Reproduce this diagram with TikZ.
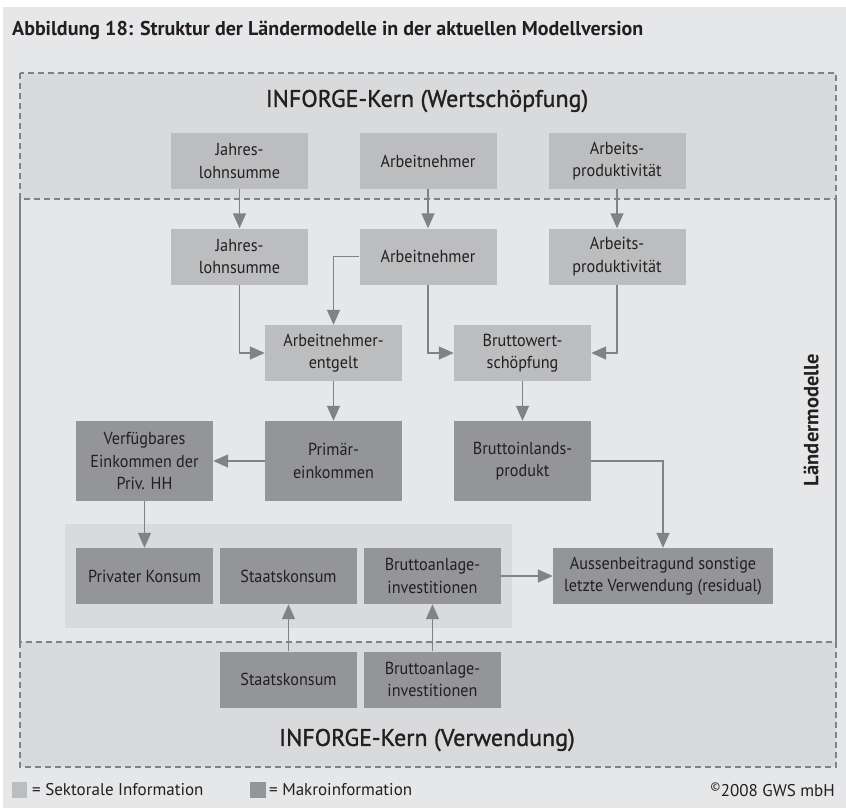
\documentclass[tikz,border=0pt]{standalone}
\usepackage{fontspec}
\setmainfont{PT Sans}[FakeStretch=0.93]
\newfontfamily\widefont{PT Sans}
\newfontfamily\semifont{PT Sans}[FakeBold=1.2]
\usetikzlibrary{arrows.meta}
\definecolor{bg}{HTML}{E6E7E8}
\definecolor{band}{HTML}{D9DADB}
\definecolor{lightbox}{HTML}{BCBDBF}
\definecolor{darkbox}{HTML}{939598}
\definecolor{linec}{HTML}{808285}
\definecolor{txt}{HTML}{231F20}
\tikzset{
  box/.style={fill=lightbox, minimum width=137bp, minimum height=56bp, inner sep=0pt,
    align=center, text=txt, font=\fontsize{17.4bp}{22.5bp}\selectfont},
  dbox/.style={box, fill=darkbox},
  tall/.style={minimum height=80bp},
  arr/.style={draw=linec, line width=1.5bp, -{Triangle[length=15bp,width=13bp]}},
  dashedborder/.style={draw=linec, line width=1.3bp, dash pattern=on 6bp off 4bp},
  solidborder/.style={draw=linec, line width=1.3bp},
  legtext/.style={text=txt, inner sep=0pt, font=\widefont\fontsize{17bp}{20bp}\selectfont},
  heading/.style={text=txt, inner sep=0pt, font=\semifont\fontsize{24bp}{28bp}\selectfont},
}
\begin{document}
\begin{tikzpicture}[x=1bp,y=-1bp]
\path[use as bounding box, fill=white] (0,0) rectangle (846,809);
\fill[bg] (3,7) rectangle (846,808);
% bands
\fill[band] (20,73) rectangle (836,199);
\fill[band] (20,642) rectangle (836,767);
\draw[dashedborder] (20,73) rectangle (836,199);
\draw[dashedborder] (20,642) rectangle (836,767);
\draw[solidborder] (20,199) -- (20,642);
\draw[solidborder] (836,199) -- (836,642);
% inner light area
\fill[band] (65,524) rectangle (512,628);

% texts
\node[anchor=west, inner sep=0pt, text=txt, font=\widefont\fontsize{20bp}{24bp}\selectfont\bfseries] (title) at (12,30)
  {Abbildung 18: Struktur der Ländermodelle in der aktuellen Modellversion};
\node[heading] (kern1) at (427,101) {INFORGE-Kern (Wertschöpfung)};
\node[heading] (kern2) at (427,740) {INFORGE-Kern (Verwendung)};
\node[rotate=90, text=txt, inner sep=0pt, font=\widefont\fontsize{20.5bp}{24bp}\selectfont\bfseries] (lm) at (811,420) {Ländermodelle};

% row 1
\node[box] (J1) at (239.5,161) {Jahres-\\lohnsumme};
\node[box] (A1) at (428,161) {Arbeitnehmer};
\node[box] (P1) at (617,161) {Arbeits-\\produktivität};
% row 2
\node[box] (J2) at (239.5,256.5) {Jahres-\\lohnsumme};
\node[box] (A2) at (428,256.5) {Arbeitnehmer};
\node[box] (P2) at (617,256.5) {Arbeits-\\produktivität};
% row 3
\node[box] (AE) at (333.5,353) {Arbeitnehmer-\\entgelt};
\node[box] (BW) at (522.5,353) {Bruttowert-\\schöpfung};
% row 4
\node[dbox, tall] (VE) at (144.5,461) {Verfügbares\\Einkommen der\\Priv. HH};
\node[dbox, tall] (PE) at (333.5,461) {Primär-\\einkommen};
\node[dbox, tall] (BIP) at (522.5,461) {Bruttoinlands-\\produkt};
% row 5
\node[dbox] (PK) at (144.5,576) {Privater Konsum};
\node[dbox] (SK) at (288.5,576) {Staatskonsum};
\node[dbox] (BA) at (432.5,576) {Bruttoanlage-\\investitionen};
\node[dbox, minimum width=220bp] (AU) at (663,576) {Aussenbeitragund sonstige\\letzte Verwendung (residual)};
% row 6
\node[dbox] (SK2) at (288.5,679.5) {Staatskonsum};
\node[dbox] (BA2) at (432.5,679.5) {Bruttoanlage-\\investitionen};

% arrows
\draw[arr] (J1) -- (J2);
\draw[arr] (A1) -- (A2);
\draw[arr] (P1) -- (P2);
\draw[arr] (J2.south) |- (AE.west);
\draw[arr] (A2.west) -| (AE.north);
\draw[arr] (A2.south) |- (BW.west);
\draw[arr] (P2.south) |- (BW.east);
\draw[arr] (AE) -- (PE);
\draw[arr] (BW) -- (BIP);
\draw[arr] (PE) -- (VE);
\draw[arr] (BIP.east) -| (AU.north);
\draw[arr] (VE) -- (PK);
\draw[arr] (BA) -- (AU);
\draw[arr] (SK2) -- (SK);
\draw[arr] (BA2) -- (BA);

% legend
\node[fill=lightbox, minimum width=15bp, minimum height=16bp, inner sep=0pt, anchor=north west] (leg1) at (12,782) {};
\node[fill=darkbox, minimum width=16bp, minimum height=16bp, inner sep=0pt, anchor=north west] (leg2) at (250,782) {};
\node[legtext, anchor=west] (legt1) at (32,790) {= Sektorale Information};
\node[legtext, anchor=west] (legt2) at (269,790) {= Makroinformation};
\node[legtext, anchor=east] (copy) at (835,790) {\textsuperscript{\textcopyright}2008 GWS mbH};
\end{tikzpicture}
\end{document}
